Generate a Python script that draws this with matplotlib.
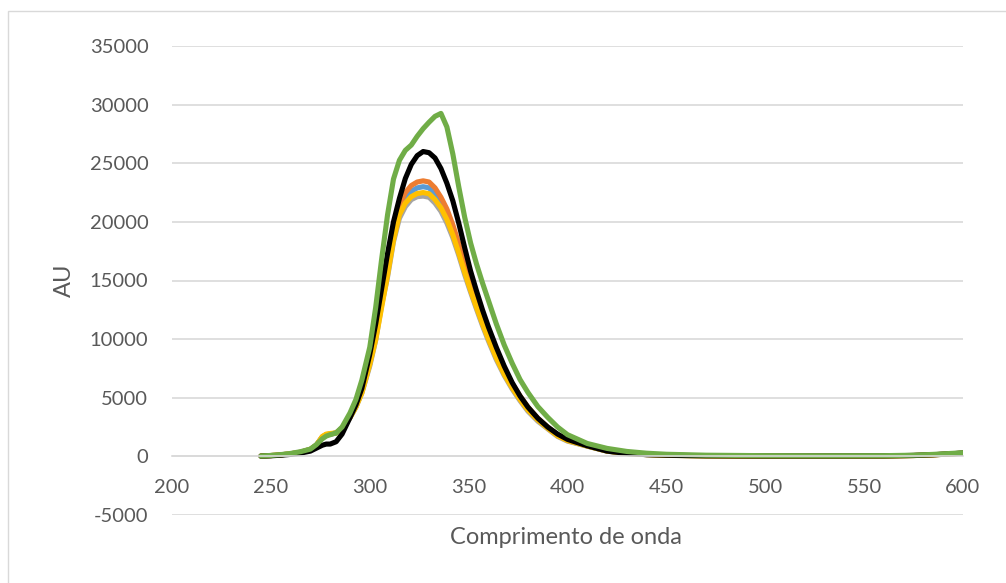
import numpy as np
import matplotlib
matplotlib.use("Agg")
import matplotlib.pyplot as plt
from matplotlib.patches import Rectangle

# Longueurs d'onde (nm)
wavelength = [245, 250, 255, 260, 265, 270, 273, 276, 278, 280, 283, 286,
              290, 293, 296, 300, 303, 306, 309, 312, 315, 318, 321, 324,
              327, 330, 333, 336, 339, 342, 345, 348, 351, 354, 357, 360,
              364, 368, 372, 376, 380, 385, 390, 395, 400, 410, 420, 430,
              440, 450, 470, 500, 530, 560, 575, 585, 595, 600]

blue = [30, 70, 130, 220, 350, 600, 950, 1650, 1850, 1900, 2000, 2400,
        3330, 4250, 5500, 7900, 10200, 13300, 15800, 18900, 21000, 22000, 22600, 22900,
        23000, 22900, 22400, 21600, 20600, 19300, 17750, 16100, 14550, 13050, 11650, 10300,
        8700, 7250, 6050, 5000, 4070, 3150, 2450, 1800, 1350, 890, 460, 255,
        155, 92, 42, 22, 22, 32, 72, 132, 222, 272]

orange = [30, 70, 130, 220, 350, 600, 950, 1650, 1850, 1900, 2000, 2400,
          3350, 4300, 5600, 8000, 10400, 13500, 16100, 19200, 21400, 22500, 23100, 23400,
          23500, 23400, 22900, 22100, 21100, 19750, 18150, 16450, 14850, 13350, 11900, 10550,
          8900, 7450, 6200, 5150, 4200, 3250, 2500, 1850, 1380, 900, 470, 260,
          160, 95, 45, 25, 25, 35, 75, 135, 225, 275]

gray = [30, 70, 130, 220, 350, 600, 950, 1650, 1850, 1900, 2000, 2400,
        3300, 4200, 5400, 7700, 9900, 12900, 15300, 18300, 20300, 21300, 21900, 22150,
        22200, 22100, 21600, 20900, 19900, 18650, 17150, 15500, 14000, 12550, 11150, 9850,
        8250, 6900, 5750, 4750, 3850, 3000, 2350, 1700, 1300, 870, 440, 245,
        145, 88, 40, 20, 20, 30, 70, 130, 220, 270]

yellow = [30, 70, 130, 220, 350, 600, 950, 1700, 1900, 1950, 2000, 2400,
          3300, 4200, 5400, 7850, 9950, 12700, 15450, 18450, 20600, 21600, 22150, 22420,
          22500, 22400, 21900, 21200, 20200, 18900, 17350, 15700, 14150, 12700, 11300, 10000,
          8400, 7000, 5850, 4850, 3950, 3100, 2400, 1750, 1350, 880, 450, 250,
          150, 90, 40, 20, 20, 30, 70, 130, 220, 270]

black = [20, 50, 100, 170, 280, 450, 700, 950, 1050, 1050, 1250, 1900,
         3300, 4400, 5800, 8700, 11300, 14300, 17300, 20000, 22000, 23700, 24900, 25650,
         26000, 25900, 25450, 24550, 23300, 21800, 19900, 17800, 15800, 14100, 12500, 11050,
         9300, 7700, 6300, 5150, 4200, 3250, 2500, 1900, 1450, 900, 450, 250,
         150, 100, 50, 30, 30, 40, 80, 140, 230, 280]

green = [30, 80, 150, 250, 400, 620, 1000, 1500, 1730, 1850, 2000, 2500,
         3700, 4850, 6500, 9300, 12700, 16800, 20600, 23650, 25250, 26100, 26550, 27300,
         27950, 28500, 29000, 29250, 28100, 25800, 23000, 20400, 18200, 16400, 14800, 13300,
         11300, 9500, 7950, 6550, 5450, 4250, 3330, 2500, 1850, 1100, 680, 420,
         270, 180, 100, 60, 50, 60, 100, 170, 260, 310]

series = [blue, orange, gray, yellow, black, green]
colors = ['#5B9BD5', '#ED7D31', '#A5A5A5', '#FFC000', '#000000', '#70AD47']

text_color = '#595959'
grid_color = '#D9D9D9'

plt.rcParams['font.family'] = ['Lato', 'DejaVu Sans']
plt.rcParams['axes.unicode_minus'] = False

fig = plt.figure(figsize=(10.06, 5.83), dpi=100)
ax = fig.add_axes([172/1006, 1 - 515/583, (963 - 172)/1006, (515 - 46)/583])

# bordure de la zone du graphique
fig.patches.append(Rectangle((8/1006, -0.1), 1.2, 1 - 11/583 + 0.1,
                             transform=fig.transFigure, fill=False,
                             edgecolor=grid_color, linewidth=1.0))

for y, c in zip(series, colors):
    ax.plot(wavelength, y, color=c, linewidth=3.7, solid_capstyle='round',
            solid_joinstyle='round')

ax.set_xlim(200, 600)
ax.set_ylim(-5000, 35000)
ax.set_xticks(np.arange(200, 601, 50))
ax.set_yticks(np.arange(-5000, 35001, 5000))

ax.grid(True, axis='y', color=grid_color, linewidth=1.2)
ax.set_axisbelow(True)
for s in ['top', 'right', 'left']:
    ax.spines[s].set_visible(False)
ax.spines['bottom'].set_position(('data', 0))
ax.spines['bottom'].set_color(grid_color)
ax.spines['bottom'].set_linewidth(1.2)

ax.tick_params(axis='both', length=0, labelsize=14.5, colors=text_color)
ax.tick_params(axis='y', pad=17)
ax.tick_params(axis='x', pad=16)

fig.text(566/1006, 1 - 538/583, 'Comprimento de onda', ha='center', va='center',
         fontsize=17, color=text_color)
fig.text(64/1006, 1 - 280/583, 'AU', ha='center', va='center', rotation=90,
         fontsize=17, color=text_color)

fig.savefig('out.png', dpi=100)
